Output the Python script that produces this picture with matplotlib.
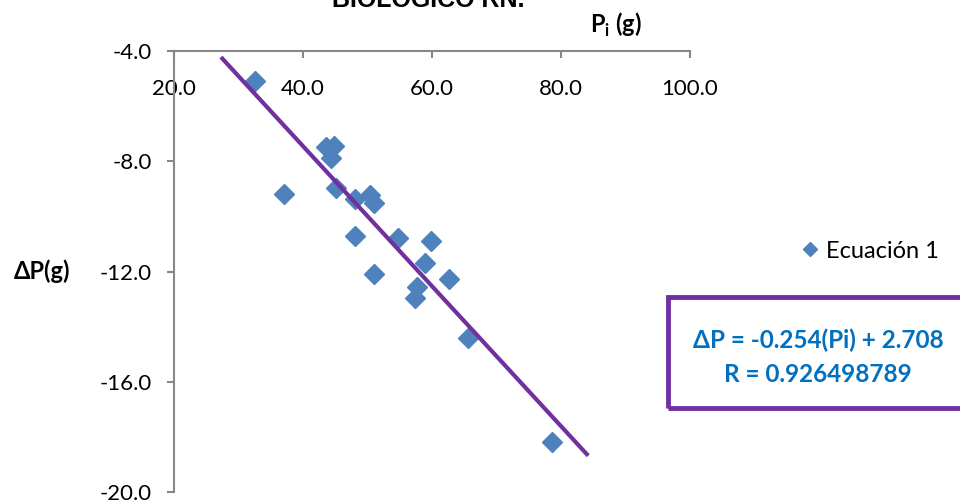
import matplotlib
matplotlib.use('Agg')
import matplotlib.pyplot as plt
from matplotlib.patches import Rectangle
import numpy as np

plt.rcParams['font.family'] = ['Lato', 'DejaVu Sans']

# datos
pi_g = [32.6, 37.1, 43.6, 44.8, 44.3, 45.1, 48.1, 50.4, 51.0, 48.1,
        54.7, 59.8, 51.0, 58.9, 57.7, 57.4, 62.6, 65.6, 78.6]
dp_g = [-5.09, -9.19, -7.48, -7.45, -7.88, -8.97, -9.37, -9.23, -9.52, -10.71,
        -10.79, -10.89, -12.09, -11.69, -12.56, -12.96, -12.27, -14.41, -18.19]

slope = -0.254
intercept = 2.708
r_value = 0.926498789
fit_range = [27.5, 84.0]

x_ticks = [20, 40, 60, 80, 100]
y_ticks = [-4, -8, -12, -16, -20]

blue = '#4F81BD'
purple = '#7030A0'
grey = '#888888'

fig = plt.figure(figsize=(9.6, 5.04), dpi=100)
ax = fig.add_axes([174/960, 1 - 492/504, 516/960, 441/504])

ax.plot(pi_g, dp_g, 'D', color=blue, markersize=10, label='Ecuación 1', zorder=3)
fx = np.array(fit_range)
ax.plot(fx, slope * fx + intercept, color=purple, lw=3, zorder=4, clip_on=False)

ax.set_xlim(20, 100)
ax.set_ylim(-20, -4)
ax.set_xticks(x_ticks)
ax.set_xticklabels([f'{v:.1f}' for v in x_ticks])
ax.set_yticks(y_ticks)
ax.set_yticklabels([f'{v:.1f}' for v in y_ticks])

for s in ['top', 'right']:
    ax.spines[s].set_visible(False)
ax.spines['bottom'].set_position(('data', -4))
ax.spines['bottom'].set_color(grey)
ax.spines['left'].set_color(grey)
ax.spines['bottom'].set_linewidth(1.5)
ax.spines['left'].set_linewidth(1.5)
ax.tick_params(axis='x', direction='out', length=5, width=1.5, color=grey, pad=15, labelsize=16)
ax.tick_params(axis='y', direction='out', length=5, width=1.5, color=grey, pad=11, labelsize=16)

fig.text(590/960, 1 - 25/504, r'P$_\mathregular{i}$ (g)', fontsize=17, fontweight='bold',
         ha='left', va='center')
fig.text(42/960, 1 - 271/504, 'ΔP(g)', fontsize=17, fontweight='bold', ha='center', va='center')
fig.text(428/960, 1 - 7/504, 'BIOLÓGICO RN.', fontsize=18, fontweight='bold',
         family='Liberation Sans', ha='center', va='baseline')

ax.legend(loc='center left', bbox_to_anchor=(798/960, 1 - 251/504), bbox_transform=fig.transFigure,
          frameon=False, fontsize=17, handlelength=1.0, handletextpad=0.2,
          borderpad=0, borderaxespad=0, markerscale=0.75)

fig.patches.append(Rectangle((668/960, 1 - 408/504), 0.4, 111/504, transform=fig.transFigure,
                             fill=False, edgecolor=purple, lw=3.5))
fig.text(818/960, 1 - 340/504, f'ΔP = {slope}(Pi) + {intercept}', color='#0070C0',
         fontsize=17.5, fontweight='bold', ha='center', va='center')
fig.text(818/960, 1 - 374/504, f'R = {r_value}', color='#0070C0',
         fontsize=17.5, fontweight='bold', ha='center', va='center')

fig.savefig('out.png', dpi=100)
